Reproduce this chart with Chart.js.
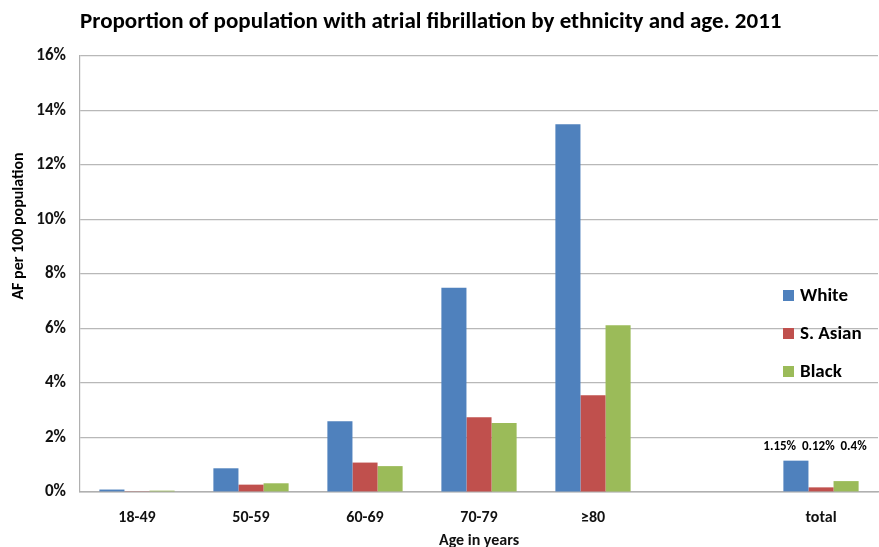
<!DOCTYPE html>
<html>
<head>
<meta charset="utf-8">
<script src="https://cdn.jsdelivr.net/npm/chart.js@4.4.0/dist/chart.umd.min.js"></script>
<style>
  html, body { margin: 0; padding: 0; background: #fff; }
  #wrap { width: 879px; height: 547px; }
</style>
</head>
<body>
<div id="wrap"><canvas id="afChart" width="879" height="547"></canvas></div>
<script>
// Chart data
const ageGroups = ['18-49', '50-59', '60-69', '70-79', '≥80', '', 'total'];
const whiteValues = [0.09, 0.87, 2.6, 7.5, 13.5, null, 1.15];
const asianValues = [0.03, 0.27, 1.08, 2.74, 3.55, null, 0.17];
const blackValues = [0.05, 0.32, 0.95, 2.53, 6.12, null, 0.4];
const totalLabels = ['1.15%', '0.12%', '0.4%'];
const yTicks = [0, 2, 4, 6, 8, 10, 12, 14, 16];

const FONT = 'Carlito, "Liberation Sans Narrow", "Liberation Sans", sans-serif';

// Title, y-axis title, legend and total labels drawn by hand
const extrasPlugin = {
    id: 'extras',
    afterDraw(chart) {
        const ctx = chart.ctx;
        ctx.save();
        ctx.fillStyle = '#000';

        // Title
        ctx.font = 'bold 23px ' + FONT;
        ctx.textAlign = 'left';
        ctx.textBaseline = 'middle';
        ctx.fillText('Proportion of population with atrial fibrillation by ethnicity and age. 2011', 80, 22);

        // Y axis title
        ctx.save();
        ctx.translate(19, 226);
        ctx.rotate(-Math.PI / 2);
        ctx.font = 'bold 16px ' + FONT;
        ctx.textAlign = 'center';
        ctx.fillText('AF per 100 population', 0, 0);
        ctx.restore();

        // Legend inside plot
        ctx.font = 'bold 19px ' + FONT;
        ctx.textAlign = 'left';
        chart.data.datasets.forEach((ds, i) => {
            const y = 296 + i * 38;
            ctx.fillStyle = ds.backgroundColor;
            ctx.fillRect(783, y - 6, 11, 11);
            ctx.fillStyle = '#000';
            ctx.fillText(ds.label, 800, y);
        });

        // Labels above the total group
        const xScale = chart.scales.x;
        const cx = xScale.getPixelForValue(ageGroups.length - 1);
        ctx.font = 'bold 13px ' + FONT;
        ctx.textAlign = 'center';
        ctx.fillText(totalLabels.join('  '), cx - 6, 447);
        ctx.restore();
    }
};

new Chart(document.getElementById('afChart'), {
    type: 'bar',
    data: {
        labels: ageGroups,
        datasets: [
            { label: 'White', data: whiteValues, backgroundColor: '#4F81BD' },
            { label: 'S. Asian', data: asianValues, backgroundColor: '#C0504D' },
            { label: 'Black', data: blackValues, backgroundColor: '#9BBB59' }
        ]
    },
    options: {
        responsive: false,
        animation: false,
        layout: { padding: { top: 56, right: 1, left: 0, bottom: 0 } },
        datasets: {
            bar: { categoryPercentage: 0.66, barPercentage: 1.0 }
        },
        plugins: {
            legend: { display: false },
            title: { display: false },
            tooltip: { enabled: false }
        },
        scales: {
            x: {
                afterFit: s => { s.height = 55; },
                grid: { display: false, drawTicks: false },
                border: { color: '#b0b0b0', width: 1.5 },
                ticks: {
                    color: '#111',
                    padding: 16,
                    font: { family: FONT, size: 16, weight: 'bold' }
                },
                title: {
                    display: true,
                    text: 'Age in years',
                    color: '#111',
                    padding: { top: 0, bottom: -4 },
                    font: { family: FONT, size: 16, weight: 'bold' }
                }
            },
            y: {
                min: 0,
                max: 16,
                afterFit: s => { s.width = 80; },
                afterBuildTicks: s => { s.ticks = yTicks.map(v => ({ value: v })); },
                grid: { color: '#b8b8b8', lineWidth: 1.2, drawTicks: false },
                border: { color: '#b0b0b0', width: 1.2 },
                ticks: {
                    color: '#111',
                    padding: 14,
                    callback: v => v + '%',
                    font: { family: FONT, size: 17, weight: 'bold' }
                }
            }
        }
    },
    plugins: [extrasPlugin]
});
</script>
</body>
</html>
